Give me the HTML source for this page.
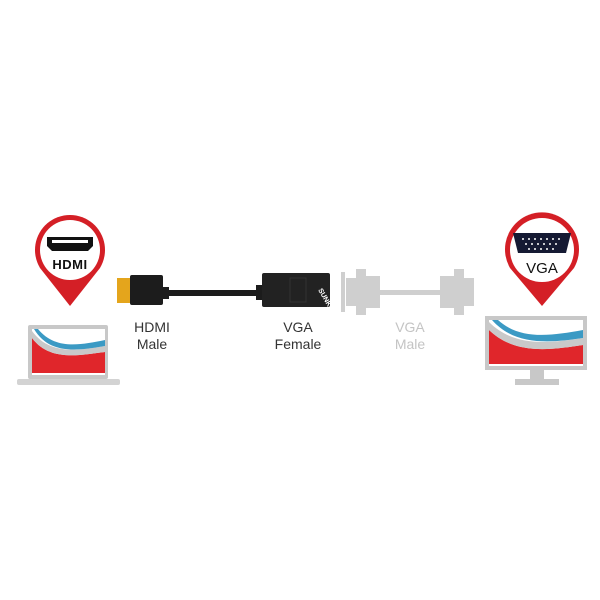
<!DOCTYPE html>
<html><head><style>body{margin:0;background:#fff}svg{display:block}text{font-family:"Liberation Sans",sans-serif}</style></head>
<body>
<svg width="600" height="600" viewBox="0 0 600 600" xmlns="http://www.w3.org/2000/svg">
<rect width="600" height="600" fill="#fff"/>
<!-- Left pin -->
<path d="M40,268 A35,35 0 1 1 100,268 L70,306 Z" fill="#d41f26"/>
<circle cx="70" cy="250" r="30" fill="#fff"/>
<path d="M47,237 h46 v9 l-5,5 h-36 l-5,-5 z" fill="#111"/>
<rect x="52" y="240" width="36" height="3" fill="#fff"/>
<text x="70" y="269" font-size="13" font-weight="bold" text-anchor="middle" fill="#111" letter-spacing="0.5">HDMI</text>
<!-- Laptop -->
<rect x="28" y="325" width="80" height="54" rx="2" fill="#c8c8c8"/>
<rect x="32" y="329" width="73" height="46" fill="#fff"/>
<path d="M32,338 C50,362 80,355 105,352 L105,373 L32,373 Z" fill="#e0262b"/>
<path d="M32,331 C50,356 80,350 105,346 L105,352 C80,355 50,362 32,338 Z" fill="#c9c9c9"/>
<path d="M38,329 C55,350 80,345 105,340 L105,346 C80,350 50,356 34,329 Z" fill="#3b9ac4"/>
<rect x="17" y="379" width="103" height="6" rx="2" fill="#d3d3d3"/>
<!-- HDMI plug + cable -->
<rect x="117" y="278" width="14" height="25" fill="#e4a51c"/>
<rect x="130" y="275" width="33" height="30" rx="2" fill="#1c1c1c"/>
<rect x="163" y="287" width="6" height="12" fill="#1c1c1c"/>
<rect x="163" y="290" width="100" height="6" fill="#1c1c1c"/>
<rect x="256" y="285" width="6" height="15" fill="#1c1c1c"/>
<rect x="262" y="273" width="68" height="34" rx="2" fill="#222"/>
<rect x="290" y="278" width="16" height="24" fill="none" stroke="#333"/>
<text x="318" y="290" font-size="7" font-weight="bold" fill="#fff" transform="rotate(60 318 290)">SUNK</text>
<!-- Gray VGA cable -->
<g fill="#cfcfcf">
<rect x="341" y="272" width="4" height="40"/>
<rect x="346" y="278" width="10" height="28"/>
<rect x="356" y="269" width="10" height="46"/>
<rect x="366" y="276" width="14" height="32"/>
<rect x="380" y="290" width="60" height="5"/>
<rect x="440" y="276" width="14" height="32"/>
<rect x="454" y="269" width="10" height="46"/>
<rect x="464" y="278" width="10" height="28"/>
</g>
<!-- Labels -->
<g font-size="14" text-anchor="middle">
<text x="152" y="332" fill="#333">HDMI</text><text x="152" y="349" fill="#333">Male</text>
<text x="298" y="332" fill="#333">VGA</text><text x="298" y="349" fill="#333">Female</text>
<text x="410" y="332" fill="#c4c4c4">VGA</text><text x="410" y="349" fill="#c4c4c4">Male</text>
</g>
<!-- Right pin -->
<path d="M510,268 A37,37 0 1 1 574,268 L542,306 Z" fill="#d41f26"/>
<circle cx="542" cy="250" r="32" fill="#fff"/>
<path d="M513,233 h58 l-5,20 h-48 z" fill="#151a33"/>
<g fill="#fff"><circle cx="523" cy="239" r="1"/><circle cx="529" cy="239" r="1"/><circle cx="535" cy="239" r="1"/><circle cx="541" cy="239" r="1"/><circle cx="547" cy="239" r="1"/><circle cx="553" cy="239" r="1"/><circle cx="559" cy="239" r="1"/>
<circle cx="526" cy="244" r="1"/><circle cx="532" cy="244" r="1"/><circle cx="538" cy="244" r="1"/><circle cx="544" cy="244" r="1"/><circle cx="550" cy="244" r="1"/><circle cx="556" cy="244" r="1"/>
<circle cx="529" cy="249" r="1"/><circle cx="535" cy="249" r="1"/><circle cx="541" cy="249" r="1"/><circle cx="547" cy="249" r="1"/><circle cx="553" cy="249" r="1"/></g>
<text x="542" y="273" font-size="15" text-anchor="middle" fill="#111">VGA</text>
<!-- Monitor -->
<rect x="485" y="316" width="102" height="54" fill="#c8c8c8"/>
<rect x="489" y="320" width="94" height="46" fill="#fff"/>
<path d="M489,330 C515,355 550,350 583,345 L583,364 L489,364 Z" fill="#e0262b"/>
<path d="M489,322 C515,348 550,343 583,338 L583,345 C550,350 515,355 489,330 Z" fill="#c9c9c9"/>
<path d="M498,320 C520,340 550,336 583,330 L583,338 C550,343 515,346 492,320 Z" fill="#3b9ac4"/>
<rect x="530" y="370" width="14" height="9" fill="#c8c8c8"/>
<rect x="515" y="379" width="44" height="6" fill="#c8c8c8"/>
</svg>
</body></html>
